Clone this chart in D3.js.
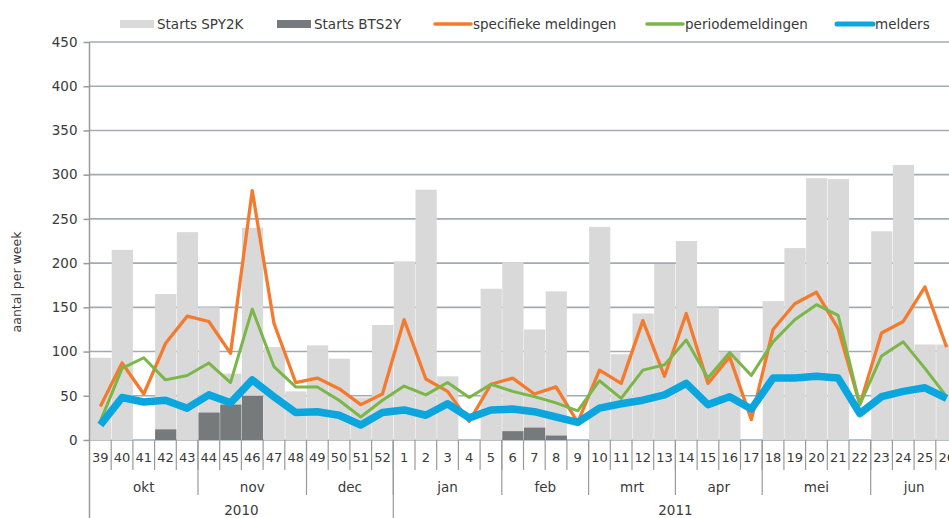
<!DOCTYPE html>
<html>
<head>
<meta charset="utf-8">
<script src="https://cdn.jsdelivr.net/npm/d3@7"></script>
<style>
    body { margin: 0; background: #fff; }
    text { font-family: "DejaVu Sans", Verdana, sans-serif; fill: #3a3a3a; }
</style>
</head>
<body>
<div id="chart"></div>
<script>
// weeks, 2010 wk 39 .. 2011 wk 26
var weeks = [39, 40, 41, 42, 43, 44, 45, 46, 47, 48, 49, 50, 51, 52,
    1, 2, 3, 4, 5, 6, 7, 8, 9, 10, 11, 12, 13, 14, 15, 16, 17, 18, 19, 20, 21, 22, 23, 24, 25, 26];

var startsSPY2K = [93, 215, 0, 165, 235, 150, 75, 240, 105, 55, 107, 92, 48, 130,
    202, 283, 72, 0, 171, 201, 125, 168, 0, 241, 97, 143, 199, 225, 150, 100, 0, 157, 217, 296, 295, 0, 236, 311, 108, 108];
var startsBTS2Y = [0, 0, 0, 12, 0, 31, 40, 50, 0, 0, 0, 0, 0, 0,
    0, 0, 0, 0, 0, 10, 14, 5, 0, 0, 0, 0, 0, 0, 0, 0, 0, 0, 0, 0, 0, 0, 0, 0, 0, 0];

var specifiek = [38, 87, 52, 109, 140, 134, 98, 282, 132, 65, 70, 58, 40, 52,
    136, 69, 55, 21, 63, 70, 52, 60, 20, 79, 64, 135, 72, 143, 64, 94, 23, 125, 154, 167, 126, 40, 121, 134, 173, 105];
var periode = [21, 81, 93, 68, 73, 87, 65, 148, 83, 60, 60, 45, 26, 45,
    61, 51, 65, 48, 63, 55, 49, 42, 33, 67, 47, 79, 85, 113, 70, 99, 73, 111, 136, 153, 141, 40, 95, 111, 81, 49];
var melders = [17, 48, 43, 45, 36, 51, 42, 68, 49, 31, 32, 28, 17, 31,
    34, 28, 41, 25, 34, 35, 32, 26, 20, 36, 41, 45, 51, 64, 40, 49, 35, 70, 70, 72, 70, 30, 49, 55, 59, 47];

var months = ["okt", "nov", "dec", "jan", "feb", "mrt", "apr", "mei", "jun"];
var monthSpan = [5, 5, 4, 5, 4, 4, 4, 5, 4];
var years = ["2010", "2011"];
var yearSpan = [14, 26];
var yTicks = [0, 50, 100, 150, 200, 250, 300, 350, 400, 450];

var legendItems = [
    { label: "Starts SPY2K", type: "bar", color: "#d9d9d9", x: 120 },
    { label: "Starts BTS2Y", type: "bar", color: "#777a7a", x: 277 },
    { label: "specifieke meldingen", type: "line", color: "#f47a2e", x: 435 },
    { label: "periodemeldingen", type: "line", color: "#7ab648", x: 647 },
    { label: "melders", type: "line", color: "#0aa6dd", x: 837 }
];

var width = 949, height = 518;
var plotLeft = 89.5, slot = 21.7, plotTop = 42, plotBottom = 440;

var svg = d3.select("#chart").append("svg")
    .attr("width", width)
    .attr("height", height);

var x = d3.scaleBand()
    .domain(d3.range(weeks.length))
    .range([plotLeft, plotLeft + slot * weeks.length])
    .padding(0);

var y = d3.scaleLinear()
    .domain([0, 450])
    .range([plotBottom, plotTop]);

// grid
svg.append("g").selectAll("line")
    .data(yTicks)
    .enter().append("line")
    .attr("x1", plotLeft).attr("x2", width)
    .attr("y1", (d) => y(d)).attr("y2", (d) => y(d))
    .attr("stroke", "#a2abb4")
    .attr("stroke-width", 1.6);

// bars
svg.append("g").selectAll("rect")
    .data(startsSPY2K)
    .enter().append("rect")
    .attr("x", (d, i) => x(i) + 0.5)
    .attr("width", x.bandwidth() - 0.5)
    .attr("y", (d) => y(d))
    .attr("height", (d) => plotBottom - y(d))
    .attr("fill", "#d9d9d9");

svg.append("g").selectAll("rect")
    .data(startsBTS2Y)
    .enter().append("rect")
    .attr("x", (d, i) => x(i) + 0.5)
    .attr("width", x.bandwidth() - 0.5)
    .attr("y", (d) => y(d))
    .attr("height", (d) => plotBottom - y(d))
    .attr("fill", "#777a7a");

// lines
var line = d3.line()
    .x((d, i) => x(i) + x.bandwidth() / 2)
    .y((d) => y(d));

[[specifiek, "#f47a2e", 3.3], [periode, "#7ab648", 3], [melders, "#0aa6dd", 7.5]].forEach(function (s) {
    svg.append("path")
        .datum(s[0])
        .attr("d", line)
        .attr("fill", "none")
        .attr("stroke", s[1])
        .attr("stroke-width", s[2])
        .attr("stroke-linejoin", "round");
});

// y axis
var yAxis = svg.append("g")
    .attr("transform", "translate(" + plotLeft + ",0)")
    .call(d3.axisLeft(y).tickValues(yTicks).tickSize(6).tickPadding(6));
yAxis.select(".domain").remove();
yAxis.selectAll(".tick line").attr("stroke", "#9a9a9a").attr("stroke-width", 1.5);
yAxis.selectAll(".tick text").attr("font-size", 13.5).attr("fill", "#3a3a3a")
    .attr("font-family", "DejaVu Sans, Verdana, sans-serif");

svg.append("line")
    .attr("x1", plotLeft).attr("x2", plotLeft)
    .attr("y1", plotTop).attr("y2", height)
    .attr("stroke", "#9a9a9a").attr("stroke-width", 1.5);

svg.append("text")
    .attr("transform", "translate(21,282) rotate(-90)")
    .attr("text-anchor", "middle")
    .attr("font-size", 12.5)
    .text("aantal per week");

// x axis: weeks
var xg = svg.append("g");
xg.selectAll("line.wk")
    .data(d3.range(1, weeks.length))
    .enter().append("line")
    .attr("x1", (i) => x(i)).attr("x2", (i) => x(i))
    .attr("y1", plotBottom).attr("y2", 470)
    .attr("stroke", "#9a9a9a").attr("stroke-width", 1.2);

xg.selectAll("text.wk")
    .data(weeks)
    .enter().append("text")
    .attr("x", (d, i) => x(i) + x.bandwidth() / 2)
    .attr("y", 462)
    .attr("text-anchor", "middle")
    .attr("font-size", 13)
    .text((d) => d);

// months
var mStart = 0;
months.forEach(function (m, k) {
    var a = x(mStart), b = x(mStart) + slot * monthSpan[k];
    xg.append("text")
        .attr("x", (a + b) / 2).attr("y", 492)
        .attr("text-anchor", "middle")
        .attr("font-size", 13.5)
        .text(m);
    if (mStart > 0) {
        xg.append("line")
            .attr("x1", a).attr("x2", a)
            .attr("y1", plotBottom).attr("y2", 495)
            .attr("stroke", "#9a9a9a").attr("stroke-width", 1.2);
    }
    mStart += monthSpan[k];
});

// years
var yStart = 0;
years.forEach(function (yr, k) {
    var a = x(yStart), b = x(yStart) + slot * yearSpan[k];
    xg.append("text")
        .attr("x", (a + b) / 2).attr("y", 515)
        .attr("text-anchor", "middle")
        .attr("font-size", 13.5)
        .text(yr);
    if (yStart > 0) {
        xg.append("line")
            .attr("x1", a).attr("x2", a)
            .attr("y1", plotBottom).attr("y2", height)
            .attr("stroke", "#9a9a9a").attr("stroke-width", 1.2);
    }
    yStart += yearSpan[k];
});

// legend
var lg = svg.append("g");
legendItems.forEach(function (it) {
    if (it.type == "bar") {
        lg.append("rect")
            .attr("x", it.x).attr("y", 20)
            .attr("width", 34).attr("height", 8)
            .attr("fill", it.color);
    }
    else {
        lg.append("line")
            .attr("x1", it.x).attr("x2", it.x + 36)
            .attr("y1", 24).attr("y2", 24)
            .attr("stroke", it.color)
            .attr("stroke-width", it.label == "melders" ? 5 : 3.5)
            .attr("stroke-linecap", "round");
    }
    lg.append("text")
        .attr("x", it.x + (it.type == "bar" ? 37 : 38))
        .attr("y", 29)
        .attr("font-size", 13.5)
        .text(it.label);
});
</script>
</body>
</html>
